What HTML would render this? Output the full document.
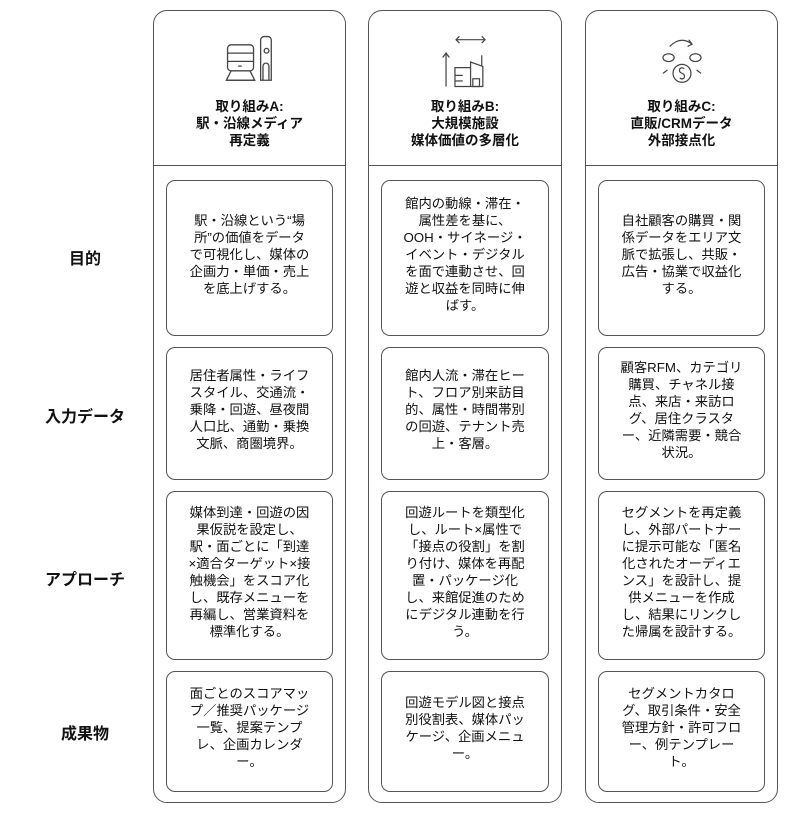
<!DOCTYPE html>
<html><head><meta charset="utf-8"><style>
*{margin:0;padding:0;box-sizing:border-box}
body{width:795px;height:819px;background:#fff;position:relative;font-family:"Liberation Sans","Noto Sans CJK JP",sans-serif;color:#111;overflow:hidden}
.col{position:absolute;top:10px;height:793px;border:1.3px solid #555;border-radius:14px}
.hdr{position:absolute;left:0;right:0;top:0;height:155px;border-bottom:1.3px solid #555}
.title{position:absolute;left:0;right:0;top:87px;text-align:center;font-weight:bold;font-size:13.5px;line-height:17px}
.icon{position:absolute;left:50%;top:22px;transform:translateX(-50%)}
.box{position:absolute;left:12px;right:12px;border:1.3px solid #555;border-radius:9px;display:flex;align-items:center;justify-content:center;text-align:center;font-size:13.3px;line-height:17px;padding-bottom:8px}
.lbl{position:absolute;left:20px;width:130px;text-align:center;font-weight:bold;font-size:16px}
</style></head><body>
<div class="lbl" style="top:245px">目的</div>
<div class="lbl" style="top:403px">入力データ</div>
<div class="lbl" style="top:566px">アプローチ</div>
<div class="lbl" style="top:720px">成果物</div>

<div class="col" style="left:153px;width:193px">
 <div class="hdr">
  <svg class="icon" width="52" height="52" viewBox="0 0 44 44" fill="none" stroke="#444" stroke-width="1.1">
   <rect x="3" y="10" width="22" height="22" rx="3"/><line x1="3" y1="17" x2="25" y2="17"/><line x1="3" y1="24" x2="25" y2="24"/><line x1="12" y1="28" x2="15" y2="28"/>
   <path d="M6 32 L2 40 H26 L22 32"/><line x1="2" y1="40" x2="26" y2="40"/>
   <path d="M31 40 V6 a3 3 0 0 1 3 -3 h3 a3 3 0 0 1 3 3 V40 Z"/><circle cx="36" cy="15" r="2"/><path d="M33 40 V28 a2.5 2.5 0 0 1 5 0 V40"/>
  </svg>
  <div class="title">取り組みA:<br>駅・沿線メディア<br>再定義</div>
 </div>
 <div class="box" style="top:169px;height:156px">駅・沿線という“場<br>所”の価値をデータ<br>で可視化し、媒体の<br>企画力・単価・売上<br>を底上げする。</div>
 <div class="box" style="top:336px;height:133px">居住者属性・ライフ<br>スタイル、交通流・<br>乗降・回遊、昼夜間<br>人口比、通勤・乗換<br>文脈、商圏境界。</div>
 <div class="box" style="top:480px;height:169px">媒体到達・回遊の因<br>果仮説を設定し、<br>駅・面ごとに「到達<br>×適合ターゲット×接<br>触機会」をスコア化<br>し、既存メニューを<br>再編し、営業資料を<br>標準化する。</div>
 <div class="box" style="top:660px;height:121px">面ごとのスコアマッ<br>プ／推奨パッケージ<br>一覧、提案テンプ<br>レ、企画カレンダ<br>ー。</div>
</div>

<div class="col" style="left:368px;width:194px">
 <div class="hdr">
  <svg class="icon" width="56" height="58" viewBox="0 2 50 52" fill="none" stroke="#444" stroke-width="1.1">
   <line x1="8" y1="50" x2="8" y2="20"/><path d="M5 24 L8 20 L11 24"/>
   <line x1="17" y1="8" x2="43" y2="8"/><path d="M20 5 L17 8 L20 11 M40 5 L43 8 L40 11"/>
   <path d="M16 50 V33 H30 V50 Z M30 50 V28 L41 32 V50 Z"/><line x1="40" y1="22" x2="40" y2="32"/>
   <line x1="16" y1="40" x2="23" y2="40"/><line x1="16" y1="45" x2="23" y2="45"/><rect x="32" y="43" width="6" height="7"/>
  </svg>
  <div class="title">取り組みB:<br>大規模施設<br>媒体価値の多層化</div>
 </div>
 <div class="box" style="top:169px;height:156px">館内の動線・滞在・<br>属性差を基に、<br>OOH・サイネージ・<br>イベント・デジタル<br>を面で連動させ、回<br>遊と収益を同時に伸<br>ばす。</div>
 <div class="box" style="top:336px;height:133px">館内人流・滞在ヒー<br>ト、フロア別来訪目<br>的、属性・時間帯別<br>の回遊、テナント売<br>上・客層。</div>
 <div class="box" style="top:480px;height:169px">回遊ルートを類型化<br>し、ルート×属性で<br>「接点の役割」を割<br>り付け、媒体を再配<br>置・パッケージ化<br>し、来館促進のため<br>にデジタル連動を行<br>う。</div>
 <div class="box" style="top:660px;height:121px">回遊モデル図と接点<br>別役割表、媒体パッ<br>ケージ、企画メニュ<br>ー。</div>
</div>

<div class="col" style="left:585px;width:193px">
 <div class="hdr">
  <svg class="icon" width="56" height="56" viewBox="0 0 50 50" fill="none" stroke="#444" stroke-width="1.1">
   <path d="M14 12 Q24 2 34 10"/><path d="M31 6 L34 10 L30 12"/>
   <circle cx="25" cy="36" r="8"/><path d="M27 32 Q25 30 23 32 Q22 35 25 36 Q28 37 27 40 Q25 42 23 40"/>
   <ellipse cx="13" cy="22" rx="5" ry="3.5"/><ellipse cx="37" cy="22" rx="5" ry="3.5"/>
   <line x1="8" y1="36" x2="12" y2="33"/><line x1="42" y1="36" x2="38" y2="33"/>
  </svg>
  <div class="title">取り組みC:<br>直販/CRMデータ<br>外部接点化</div>
 </div>
 <div class="box" style="top:169px;height:156px">自社顧客の購買・関<br>係データをエリア文<br>脈で拡張し、共販・<br>広告・協業で収益化<br>する。</div>
 <div class="box" style="top:336px;height:133px">顧客RFM、カテゴリ<br>購買、チャネル接<br>点、来店・来訪ロ<br>グ、居住クラスタ<br>ー、近隣需要・競合<br>状況。</div>
 <div class="box" style="top:480px;height:169px">セグメントを再定義<br>し、外部パートナー<br>に提示可能な「匿名<br>化されたオーディエ<br>ンス」を設計し、提<br>供メニューを作成<br>し、結果にリンクし<br>た帰属を設計する。</div>
 <div class="box" style="top:660px;height:121px">セグメントカタロ<br>グ、取引条件・安全<br>管理方針・許可フロ<br>ー、例テンプレー<br>ト。</div>
</div>
</body></html>
